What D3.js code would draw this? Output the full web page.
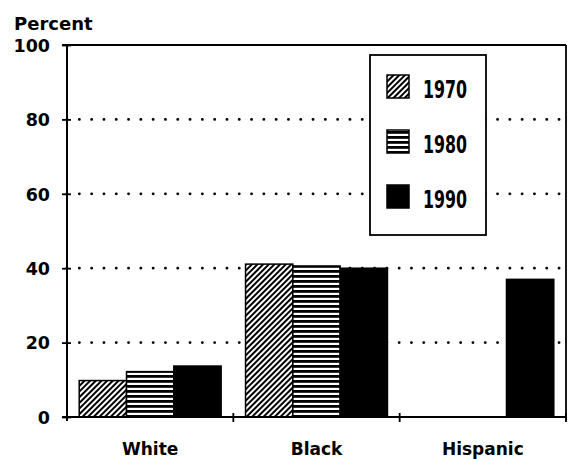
<!DOCTYPE html>
<html>
<head>
<meta charset="utf-8">
<script src="https://cdn.jsdelivr.net/npm/d3@7"></script>
<style>
  html, body { margin: 0; padding: 0; background: #fff; }
  svg { display: block; }
  text { font-family: "DejaVu Sans", "Liberation Sans", sans-serif; font-weight: bold; fill: #000; }
</style>
</head>
<body>
<svg id="chart" width="571" height="461"></svg>
<script>
document.addEventListener("DOMContentLoaded", () => {
  "use strict";

  const GROUPS = ["White", "Black", "Hispanic"];
  const YEARS  = ["1970", "1980", "1990"];
  const V1970  = [9.8, 41.1, null];
  const V1980  = [12.2, 40.6, null];
  const V1990  = [13.7, 40.0, 37.0];
  const Y_TICKS = [0, 20, 40, 60, 80, 100];
  const GRID    = [20, 40, 60, 80];

  const series = { "1970": V1970, "1980": V1980, "1990": V1990 };
  const rows = [];
  GROUPS.forEach((g, i) => YEARS.forEach(yr => {
    const v = series[yr][i];
    if (v != null) rows.push({ group: g, year: yr, value: v });
  }));

  const svg = d3.select("#chart");
  const M = { top: 45, right: 5, bottom: 44, left: 67 };
  const W = 571, H = 461;

  const x0 = d3.scaleBand().domain(GROUPS).range([M.left, W - M.right]).paddingInner(0).paddingOuter(0);
  const x1 = d3.scaleBand().domain(YEARS).range([0, x0.bandwidth()]).paddingInner(0).paddingOuter(0.258);
  const y  = d3.scaleLinear().domain([0, 100]).range([H - M.bottom, M.top]);

  // patterns
  const defs = svg.append("defs");
  const diag = defs.append("pattern")
    .attr("id", "p1970").attr("patternUnits", "userSpaceOnUse")
    .attr("width", 4).attr("height", 4)
    .attr("patternTransform", "rotate(45)");
  diag.append("rect").attr("width", 4).attr("height", 4).attr("fill", "#fff");
  diag.append("rect").attr("width", 2).attr("height", 4).attr("fill", "#000");

  const horiz = defs.append("pattern")
    .attr("id", "p1980").attr("patternUnits", "userSpaceOnUse")
    .attr("width", 8).attr("height", 5);
  horiz.append("rect").attr("width", 8).attr("height", 5).attr("fill", "#fff");
  horiz.append("rect").attr("y", 0).attr("width", 8).attr("height", 2.8).attr("fill", "#000");

  const fill = d3.scaleOrdinal().domain(YEARS).range(["url(#p1970)", "url(#p1980)", "#000"]);

  // gridlines (dotted)
  svg.append("g").selectAll("line").data(GRID).join("line")
    .attr("x1", M.left).attr("x2", W - M.right)
    .attr("y1", d => y(d)).attr("y2", d => y(d))
    .attr("stroke", "#000").attr("stroke-width", 2.8)
    .attr("stroke-linecap", "round")
    .attr("stroke-dasharray", "0.1,12.2");

  // bars
  svg.append("g").selectAll("rect").data(rows).join("rect")
    .attr("x", d => x0(d.group) + x1(d.year))
    .attr("y", d => y(d.value))
    .attr("width", x1.bandwidth())
    .attr("height", d => y(0) - y(d.value))
    .attr("fill", d => fill(d.year))
    .attr("stroke", "#000").attr("stroke-width", 1.5);

  // frame
  svg.append("line").attr("x1", M.left - 5).attr("x2", W - M.right)
    .attr("y1", y(100)).attr("y2", y(100)).attr("stroke", "#000").attr("stroke-width", 1.8);
  svg.append("line").attr("x1", W - M.right).attr("x2", W - M.right)
    .attr("y1", y(100)).attr("y2", y(0) + 3).attr("stroke", "#000").attr("stroke-width", 1.8);

  // y axis
  const yAxis = svg.append("g").attr("transform", `translate(${M.left},0)`)
    .call(d3.axisLeft(y).tickValues(Y_TICKS).tickSize(5).tickPadding(12).tickFormat(d3.format("d")));
  yAxis.select(".domain").attr("stroke-width", 2).attr("d", `M0,${y(100)}V${y(0) + 4}`);
  yAxis.selectAll(".tick line").attr("x1", -5).attr("x2", 4).attr("stroke-width", 1.8);
  yAxis.selectAll(".tick text").style("font-size", "17.5px").attr("dy", "0.36em");

  // x axis
  const xAxis = svg.append("g").attr("transform", `translate(0,${y(0)})`)
    .call(d3.axisBottom(x0).tickSize(0).tickPadding(26));
  xAxis.select(".domain").attr("stroke-width", 2).attr("d", `M${M.left - 5},0H${W - M.right}`);
  xAxis.selectAll(".tick text").style("font-size", "17px");
  const bounds = GROUPS.map(g => x0(g)).concat([x0.range()[1]]);
  xAxis.selectAll("line.bnd").data(bounds.slice(1)).join("line")
    .attr("class", "bnd")
    .attr("x1", d => d).attr("x2", d => d)
    .attr("y1", -4).attr("y2", 5)
    .attr("stroke", "#000").attr("stroke-width", 1.8);

  // axis title
  svg.append("text").attr("x", 14).attr("y", 30)
    .style("font-size", "18px").text("Percent");

  // legend
  const lg = svg.append("g").attr("transform", "translate(370,55)");
  lg.append("rect").attr("width", 116).attr("height", 180)
    .attr("fill", "#fff").attr("stroke", "#000").attr("stroke-width", 1.8);
  const item = lg.selectAll("g.item").data(YEARS).join("g")
    .attr("class", "item")
    .attr("transform", (d, i) => `translate(17,${31 + i * 55})`);
  item.append("rect").attr("x", 0).attr("y", -11).attr("width", 22).attr("height", 23)
    .attr("fill", d => fill(d)).attr("stroke", "#000").attr("stroke-width", 1.5);
  item.append("text").attr("x", 36).attr("y", 3).attr("dy", "0.36em")
    .attr("textLength", 44).attr("lengthAdjust", "spacingAndGlyphs")
    .style("font-size", "24px")
    .style("font-family", "'Liberation Sans Narrow', 'DejaVu Sans Condensed', 'Liberation Sans', sans-serif")
    .text(d => d);
});
</script>
</body>
</html>
